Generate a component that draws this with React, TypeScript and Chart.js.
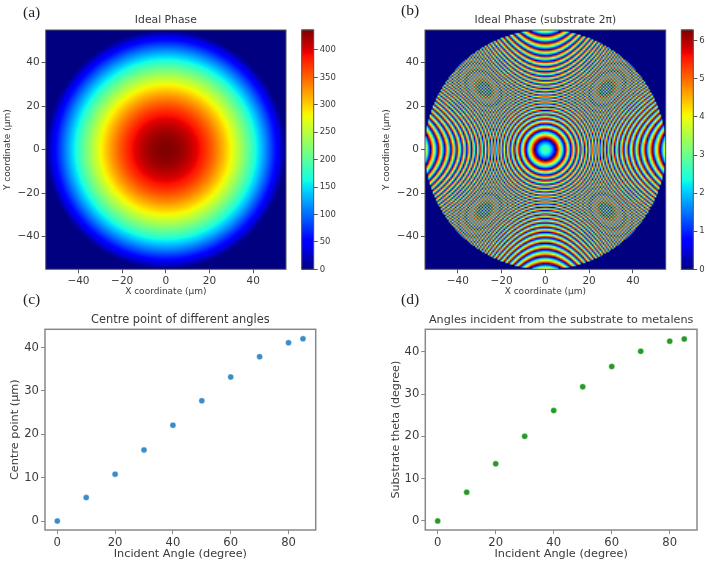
import React, { useEffect, useRef } from "react";
import { Chart, registerables } from "chart.js";

Chart.register(...registerables);

// ---- Data ----
const incidentAngles = [0, 10, 20, 30, 40, 50, 60, 70, 80, 85];
const centrePoints = [0, 5.4, 10.8, 16.4, 22.1, 27.7, 33.2, 37.9, 41.1, 42];
const substrateTheta = [0, 6.8, 13.5, 20, 26.1, 31.7, 36.5, 40.1, 42.5, 43];

const mapTicks = [-40, -20, 0, 20, 40];
const angleTicks = [0, 20, 40, 60, 80];
const centreTicks = [0, 10, 20, 30, 40];
const thetaTicks = [0, 10, 20, 30, 40];
const phaseBarTicks = [0, 50, 100, 150, 200, 250, 300, 350, 400];
const wrappedBarTicks = [0, 1, 2, 3, 4, 5, 6];

// ---- Phase maps: not read cell by cell. Each is the lens phase
// phi(r) = centre - k * (sqrt(f^2 + r^2) - f), with constants fitted by eye
// to the colours, ring radii and moire spots of the reference. ----
const lensRadius = 55;
const idealLens = { centre: 436.4, k: 15.59, f: 40, pitch: 0.55, blur: 0 };
const wrappedLens = { centre: 2.8, k: 8.8, f: 40, pitch: 0.717, blur: 0.5 };

const TWO_PI = Math.PI * 2;

function jet(t: number): [number, number, number] {
  const seg = (pts: number[][]) => {
    for (let i = 1; i < pts.length; i++) {
      if (t <= pts[i][0]) {
        const [a, va] = pts[i - 1];
        const [b, vb] = pts[i];
        return va + ((vb - va) * (t - a)) / (b - a);
      }
    }
    return pts[pts.length - 1][1];
  };
  return [
    255 * seg([[0, 0], [0.35, 0], [0.66, 1], [0.89, 1], [1, 0.5]]),
    255 * seg([[0, 0], [0.125, 0], [0.375, 1], [0.64, 1], [0.91, 0], [1, 0]]),
    255 * seg([[0, 0.5], [0.11, 1], [0.34, 1], [0.65, 0], [1, 0]]),
  ];
}

function lensImage(lens: typeof idealLens, wrap: boolean, vmax: number) {
  const n = Math.round((2 * lensRadius) / lens.pitch);
  const c = document.createElement("canvas");
  c.width = n;
  c.height = n;
  const g = c.getContext("2d")!;
  const img = g.createImageData(n, n);
  const step = (2 * lensRadius) / n;
  for (let j = 0; j < n; j++) {
    for (let i = 0; i < n; i++) {
      const x = -lensRadius + (i + 0.5) * step;
      const y = -lensRadius + (j + 0.5) * step;
      const r = Math.hypot(x, y);
      let v = 0;
      if (r <= lensRadius) {
        v = lens.centre - lens.k * (Math.sqrt(lens.f * lens.f + r * r) - lens.f);
        if (wrap) v = ((v % TWO_PI) + TWO_PI) % TWO_PI;
        else v = Math.max(v, 0);
      }
      const [cr, cg, cb] = jet(Math.min(v / vmax, 1));
      const o = (j * n + i) * 4;
      img.data[o] = cr;
      img.data[o + 1] = cg;
      img.data[o + 2] = cb;
      img.data[o + 3] = 255;
    }
  }
  g.putImageData(img, 0, 0);
  return c;
}

const FONT = "'DejaVu Sans'";
const TEXT = "#3a3a3a";

type Box = { left: number; top: number; width: number; height: number };
type Plot = { l: number; t: number; r: number; b: number };
type Spec = {
  box: Box;
  plot: Plot;
  title: string;
  titleSize: number;
  titleY: number;
  xLabel: string;
  xLabelSize: number;
  xLabelY: number;
  yLabel: string;
  yLabelSize: number;
  yLabelX: number;
  tickSize: number;
  xMin: number;
  xMax: number;
  yMin: number;
  yMax: number;
  xTicks: number[];
  yTicks: number[];
  spine: string;
  spineWidth: number;
  points?: { x: number; y: number }[];
  color?: string;
  image?: () => HTMLCanvasElement;
  imageBlur?: number;
};

const minus = (v: number | string) => String(v).replace("-", "\u2212");

function axisConfig(
  ticks: number[],
  min: number,
  max: number,
  size: number,
  color: string,
  fit: (s: any) => void,
  title: any
) {
  return {
    type: "linear",
    min,
    max,
    afterBuildTicks: (s: any) => {
      s.ticks = ticks.map((value) => ({ value }));
    },
    afterFit: fit,
    grid: {
      display: true,
      drawOnChartArea: false,
      drawTicks: true,
      tickLength: 4,
      color,
    },
    border: { display: false },
    ticks: {
      autoSkip: false,
      maxRotation: 0,
      padding: 2,
      color: TEXT,
      font: { family: FONT, size },
      callback: (v: any) => minus(v),
    },
    title,
  };
}

function makePanel(canvas: HTMLCanvasElement, s: Spec) {
  const { box, plot } = s;
  const titleLine = s.titleSize * 1.2;
  const titleGap = plot.t - s.titleY - titleLine / 2;
  const xLine = s.xLabelSize * 1.2;
  const yLine = s.yLabelSize * 1.2;
  const image = s.image ? s.image() : null;
  return new Chart(canvas, {
    type: "scatter",
    data: {
      datasets: [
        {
          data: s.points ?? [],
          backgroundColor: s.color,
          borderColor: "rgba(255,255,255,0.7)",
          borderWidth: 0.5,
          pointRadius: 3,
        },
      ],
    },
    options: {
      animation: false,
      responsive: false,
      layout: {
        padding: {
          left: 0,
          right: box.left + box.width - plot.r,
          top: plot.t - box.top - titleLine - titleGap,
          bottom: 0,
        },
      },
      plugins: {
        legend: { display: false },
        tooltip: { enabled: false },
        title: {
          display: true,
          fullSize: false,
          text: s.title,
          color: TEXT,
          font: { family: FONT, size: s.titleSize, weight: "normal", lineHeight: 1.2 },
          padding: { top: 0, bottom: titleGap },
        },
      },
      scales: {
        x: axisConfig(
          s.xTicks,
          s.xMin,
          s.xMax,
          s.tickSize,
          s.spine,
          (a: any) => {
            a.height = box.top + box.height - plot.b;
          },
          {
            display: true,
            text: s.xLabel,
            color: TEXT,
            font: { family: FONT, size: s.xLabelSize, lineHeight: 1.2 },
            padding: { top: 0, bottom: Math.max(0, box.top + box.height - s.xLabelY - xLine / 2) },
          }
        ),
        y: axisConfig(
          s.yTicks,
          s.yMin,
          s.yMax,
          s.tickSize,
          s.spine,
          (a: any) => {
            a.width = plot.l - box.left;
          },
          {
            display: true,
            text: s.yLabel,
            color: TEXT,
            font: { family: FONT, size: s.yLabelSize, lineHeight: 1.2 },
            padding: { top: Math.max(0, s.yLabelX - box.left - yLine / 2), bottom: 0 },
          }
        ),
      },
    } as any,
    plugins: [
      {
        id: "phaseImage",
        beforeDatasetsDraw(chart: any) {
          if (!image) return;
          const { x, y } = chart.scales;
          const a = chart.chartArea;
          const px0 = x.getPixelForValue(-lensRadius);
          const px1 = x.getPixelForValue(lensRadius);
          const py0 = y.getPixelForValue(lensRadius);
          const py1 = y.getPixelForValue(-lensRadius);
          const ctx = chart.ctx;
          ctx.save();
          ctx.beginPath();
          ctx.rect(a.left, a.top, a.right - a.left, a.bottom - a.top);
          ctx.clip();
          ctx.fillStyle = "#00007f";
          ctx.fillRect(a.left, a.top, a.right - a.left, a.bottom - a.top);
          ctx.imageSmoothingEnabled = true;
          ctx.imageSmoothingQuality = "medium";
          if (s.imageBlur) ctx.filter = `blur(${s.imageBlur}px)`;
          ctx.drawImage(image, px0, py0, px1 - px0, py1 - py0);
          ctx.restore();
        },
      },
      {
        id: "frame",
        afterDraw(chart: any) {
          const a = chart.chartArea;
          const ctx = chart.ctx;
          ctx.save();
          ctx.strokeStyle = s.spine;
          ctx.lineWidth = s.spineWidth;
          ctx.strokeRect(a.left, a.top, a.right - a.left, a.bottom - a.top);
          ctx.restore();
        },
      },
    ],
  });
}

function makeColorbar(
  canvas: HTMLCanvasElement,
  box: Box,
  plot: Plot,
  vmax: number,
  ticks: number[]
) {
  return new Chart(canvas, {
    type: "scatter",
    data: { datasets: [{ data: [] }] },
    options: {
      animation: false,
      responsive: false,
      layout: {
        padding: {
          left: plot.l - box.left,
          right: 0,
          top: plot.t - box.top,
          bottom: box.top + box.height - plot.b,
        },
      },
      plugins: { legend: { display: false }, tooltip: { enabled: false } },
      scales: {
        x: { display: false, min: 0, max: 1 },
        y: {
          ...axisConfig(
            ticks,
            0,
            vmax,
            8.5,
            "#555",
            (a: any) => {
              a.width = box.left + box.width - plot.r;
            },
            { display: false }
          ),
          position: "right",
        },
      },
    } as any,
    plugins: [
      {
        id: "bar",
        beforeDatasetsDraw(chart: any) {
          const y = chart.scales.y;
          const a = chart.chartArea;
          const ctx = chart.ctx;
          const steps = 256;
          for (let i = 0; i < steps; i++) {
            const v0 = (vmax * i) / steps;
            const v1 = (vmax * (i + 1)) / steps;
            const [r, g, b] = jet((i + 0.5) / steps);
            ctx.fillStyle = `rgb(${r},${g},${b})`;
            const top = y.getPixelForValue(v1);
            const bottom = y.getPixelForValue(v0);
            ctx.fillRect(a.left, top - 0.5, a.right - a.left, bottom - top + 1);
          }
        },
        afterDraw(chart: any) {
          const a = chart.chartArea;
          const ctx = chart.ctx;
          ctx.save();
          ctx.strokeStyle = "#555";
          ctx.lineWidth = 1;
          ctx.strokeRect(a.left, a.top, a.right - a.left, a.bottom - a.top);
          ctx.restore();
        },
      },
    ],
  });
}

const toPoints = (ys: number[]) => incidentAngles.map((x, i) => ({ x, y: ys[i] }));

const specs: Spec[] = [
  {
    box: { left: 0, top: 0, width: 296, height: 299 },
    plot: { l: 45.7, t: 30, r: 286, b: 269.3 },
    title: "Ideal Phase",
    titleSize: 10.8,
    titleY: 20.5,
    xLabel: "X coordinate (\u00b5m)",
    xLabelSize: 9,
    xLabelY: 292,
    yLabel: "Y coordinate (\u00b5m)",
    yLabelSize: 9,
    yLabelX: 8,
    tickSize: 10.5,
    xMin: -55,
    xMax: 55,
    yMin: -55,
    yMax: 55,
    xTicks: mapTicks,
    yTicks: mapTicks,
    spine: "#555",
    spineWidth: 1,
    image: () => lensImage(idealLens, false, 436.4),
  },
  {
    box: { left: 375, top: 0, width: 300, height: 299 },
    plot: { l: 425, t: 30, r: 665.7, b: 269.3 },
    title: "Ideal Phase (substrate 2\u03c0)",
    titleSize: 10.8,
    titleY: 20.5,
    xLabel: "X coordinate (\u00b5m)",
    xLabelSize: 9,
    xLabelY: 292,
    yLabel: "Y coordinate (\u00b5m)",
    yLabelSize: 9,
    yLabelX: 386.5,
    tickSize: 10.5,
    xMin: -55,
    xMax: 55,
    yMin: -55,
    yMax: 55,
    xTicks: mapTicks,
    yTicks: mapTicks,
    spine: "#555",
    spineWidth: 1,
    image: () => lensImage(wrappedLens, true, TWO_PI),
    imageBlur: wrappedLens.blur,
  },
  {
    box: { left: 0, top: 304, width: 330, height: 258 },
    plot: { l: 45, t: 329.3, r: 315.7, b: 530 },
    title: "Centre point of different angles",
    titleSize: 11.4,
    titleY: 320,
    xLabel: "Incident Angle (degree)",
    xLabelSize: 11.3,
    xLabelY: 554,
    yLabel: "Centre point (\u00b5m)",
    yLabelSize: 11.3,
    yLabelX: 15,
    tickSize: 11.6,
    xMin: -4.25,
    xMax: 89.4,
    yMin: -2.07,
    yMax: 44.2,
    xTicks: angleTicks,
    yTicks: centreTicks,
    spine: "#888",
    spineWidth: 1.5,
    points: toPoints(centrePoints),
    color: "#3a8cc8",
  },
  {
    box: { left: 380, top: 304, width: 328, height: 258 },
    plot: { l: 425.3, t: 329.3, r: 697, b: 530 },
    title: "Angles incident from the substrate to metalens",
    titleSize: 11.2,
    titleY: 320,
    xLabel: "Incident Angle (degree)",
    xLabelSize: 11.3,
    xLabelY: 554,
    yLabel: "Substrate theta (degree)",
    yLabelSize: 11.1,
    yLabelX: 395.7,
    tickSize: 11.6,
    xMin: -4.27,
    xMax: 89.4,
    yMin: -2.13,
    yMax: 45.3,
    xTicks: angleTicks,
    yTicks: thetaTicks,
    spine: "#888",
    spineWidth: 1.5,
    points: toPoints(substrateTheta),
    color: "#249c24",
  },
];

const colorbars = [
  {
    box: { left: 296, top: 0, width: 50, height: 290 },
    plot: { l: 301.7, t: 30, r: 313.7, b: 269.3 },
    vmax: 436.4,
    ticks: phaseBarTicks,
  },
  {
    box: { left: 675, top: 0, width: 33, height: 290 },
    plot: { l: 681.3, t: 30, r: 693.3, b: 269.3 },
    vmax: TWO_PI,
    ticks: wrappedBarTicks,
  },
];

const panelLetters = [
  { text: "(a)", left: 23, top: 3 },
  { text: "(b)", left: 401, top: 1 },
  { text: "(c)", left: 23, top: 290 },
  { text: "(d)", left: 401, top: 290 },
];

export default function App() {
  const panelRefs = useRef<(HTMLCanvasElement | null)[]>([]);
  const barRefs = useRef<(HTMLCanvasElement | null)[]>([]);

  useEffect(() => {
    const charts = [
      ...specs.map((s, i) => makePanel(panelRefs.current[i]!, s)),
      ...colorbars.map((c, i) => makeColorbar(barRefs.current[i]!, c.box, c.plot, c.vmax, c.ticks)),
    ];
    return () => charts.forEach((c) => c.destroy());
  }, []);

  const place = (b: Box): React.CSSProperties => ({
    position: "absolute",
    left: b.left,
    top: b.top,
    width: b.width,
    height: b.height,
  });

  return (
    <div
      style={{
        position: "fixed",
        left: 0,
        top: 0,
        width: 708,
        height: 562,
        background: "#fff",
        overflow: "hidden",
        filter: "blur(0.4px)",
      }}
    >
      {specs.map((s, i) => (
        <canvas
          key={s.title}
          ref={(el) => {
            panelRefs.current[i] = el;
          }}
          width={s.box.width}
          height={s.box.height}
          style={place(s.box)}
        />
      ))}
      {colorbars.map((c, i) => (
        <canvas
          key={c.box.left}
          ref={(el) => {
            barRefs.current[i] = el;
          }}
          width={c.box.width}
          height={c.box.height}
          style={place(c.box)}
        />
      ))}
      {panelLetters.map((p) => (
        <div
          key={p.text}
          style={{
            position: "absolute",
            left: p.left,
            top: p.top,
            fontFamily: "'Liberation Serif'",
            fontSize: 15.5,
            lineHeight: "18px",
            color: "#222",
          }}
        >
          {p.text}
        </div>
      ))}
    </div>
  );
}
